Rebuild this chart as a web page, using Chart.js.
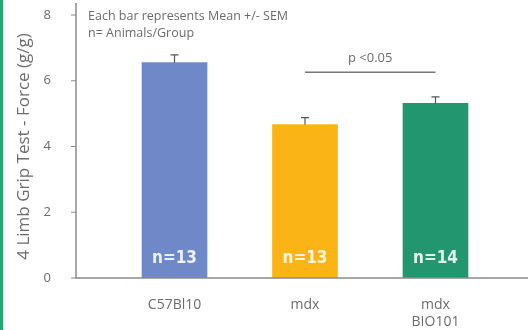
<!DOCTYPE html>
<html>
<head>
<meta charset="utf-8">
<script src="https://cdn.jsdelivr.net/npm/chart.js@4/dist/chart.umd.min.js"></script>
<style>
  html, body { margin: 0; padding: 0; background: #fff; }
  #wrap { width: 528px; height: 330px; position: relative; background: #fff; }
  #franja { position: absolute; left: 0; top: 0; width: 3px; height: 330px; background: #2aa474; }
</style>
</head>
<body>
<div id="wrap"><canvas id="grip"></canvas><div id="franja"></div></div>
<script>
// Datos del ensayo de fuerza de agarre
const grupos = [['C57Bl10'], ['mdx'], ['mdx', 'BIO101']];
const posiciones = [1, 2, 3];
const medias = [6.55, 4.67, 5.31];
const sem = [0.24, 0.21, 0.2];
const nAnimales = ['n=13', 'n=13', 'n=14'];
const colores = ['#6f88c8', '#fbb416', '#22966f'];
const yTicks = [0, 2, 4, 6, 8];
const notas = ['Each bar represents Mean +/- SEM', 'n= Animals/Group'];
const comparacion = { desde: 1, hasta: 2, nivel: 6.26, texto: 'p <0.05' };

const gris = '#6b6b6b';
const fuente = '"Open Sans", Lato, sans-serif';

// ejes: linea vertical con marcas y linea base
const ejes = {
  id: 'ejes',
  afterDraw(chart) {
    const { ctx, chartArea: a } = chart;
    const y = chart.scales.y;
    ctx.save();
    ctx.strokeStyle = '#8a8a8a';
    ctx.lineWidth = 1.5;
    ctx.beginPath();
    ctx.moveTo(a.left, 3);
    ctx.lineTo(a.left, a.bottom);
    ctx.lineTo(chart.width, a.bottom);
    ctx.stroke();
    ctx.lineWidth = 1.2;
    ctx.beginPath();
    yTicks.forEach(v => {
      const p = y.getPixelForValue(v);
      ctx.moveTo(a.left - 5, p);
      ctx.lineTo(a.left, p);
    });
    ctx.stroke();
    ctx.restore();
  }
};

// barras de error, n por grupo, comparacion y notas
const extras = {
  id: 'extras',
  afterDatasetsDraw(chart) {
    const ctx = chart.ctx;
    const y = chart.scales.y;
    const meta = chart.getDatasetMeta(0);
    ctx.save();

    ctx.strokeStyle = '#555';
    ctx.lineWidth = 1.2;
    meta.data.forEach((bar, i) => {
      const top = y.getPixelForValue(medias[i]);
      const tope = y.getPixelForValue(medias[i] + sem[i]);
      ctx.beginPath();
      ctx.moveTo(bar.x, top);
      ctx.lineTo(bar.x, tope);
      ctx.moveTo(bar.x - 4, tope);
      ctx.lineTo(bar.x + 4, tope);
      ctx.stroke();
    });

    ctx.fillStyle = 'rgba(255,255,255,0.88)';
    ctx.font = 'bold 17px "Liberation Sans Narrow", "DejaVu Sans Condensed", sans-serif';
    ctx.textAlign = 'center';
    ctx.textBaseline = 'middle';
    meta.data.forEach((bar, i) => {
      ctx.fillText(nAnimales[i], bar.x, y.getPixelForValue(0) - 19);
    });

    const x1 = meta.data[comparacion.desde].x;
    const x2 = meta.data[comparacion.hasta].x;
    const yl = y.getPixelForValue(comparacion.nivel);
    ctx.strokeStyle = '#777';
    ctx.lineWidth = 1.5;
    ctx.beginPath();
    ctx.moveTo(x1, yl);
    ctx.lineTo(x2, yl);
    ctx.stroke();
    ctx.fillStyle = gris;
    ctx.font = '13px ' + fuente;
    ctx.fillText(comparacion.texto, (x1 + x2) / 2, yl - 14);

    ctx.textAlign = 'left';
    ctx.font = '12.5px ' + fuente;
    notas.forEach((t, i) => ctx.fillText(t, 88, 16 + i * 17));
    ctx.restore();
  }
};

new Chart(document.getElementById('grip'), {
  type: 'bar',
  data: {
    datasets: [{
      data: posiciones.map((p, i) => ({ x: p, y: medias[i] })),
      backgroundColor: colores,
      barThickness: 65,
      borderWidth: 0
    }]
  },
  options: {
    responsive: true,
    maintainAspectRatio: false,
    animation: false,
    layout: { padding: { top: 15, right: 0, bottom: 0, left: 0 } },
    plugins: { legend: { display: false }, tooltip: { enabled: false } },
    scales: {
      x: {
        type: 'linear',
        offset: false,
        min: 0.245,
        max: 3.709,
        grid: { display: false },
        border: { display: false },
        afterBuildTicks: s => { s.ticks = posiciones.map(v => ({ value: v })); },
        afterFit: s => { s.height = 52; },
        ticks: {
          padding: 11,
          color: gris,
          font: { family: fuente, size: 14 },
          callback: v => grupos[posiciones.indexOf(v)]
        }
      },
      y: {
        min: 0,
        max: 8,
        afterBuildTicks: s => { s.ticks = yTicks.map(v => ({ value: v })); },
        afterFit: s => { s.width = 76; s.paddingTop = 0; s.paddingBottom = 0; },
        grid: { display: false },
        border: { display: false },
        ticks: { padding: 17, color: gris, font: { family: fuente, size: 13 } },
        title: {
          display: true,
          text: '4 Limb Grip Test - Force (g/g)',
          color: gris,
          font: { family: fuente, size: 17 },
          padding: { top: 14, bottom: 0 }
        }
      }
    }
  },
  plugins: [extras, ejes]
});
</script>
</body>
</html>
